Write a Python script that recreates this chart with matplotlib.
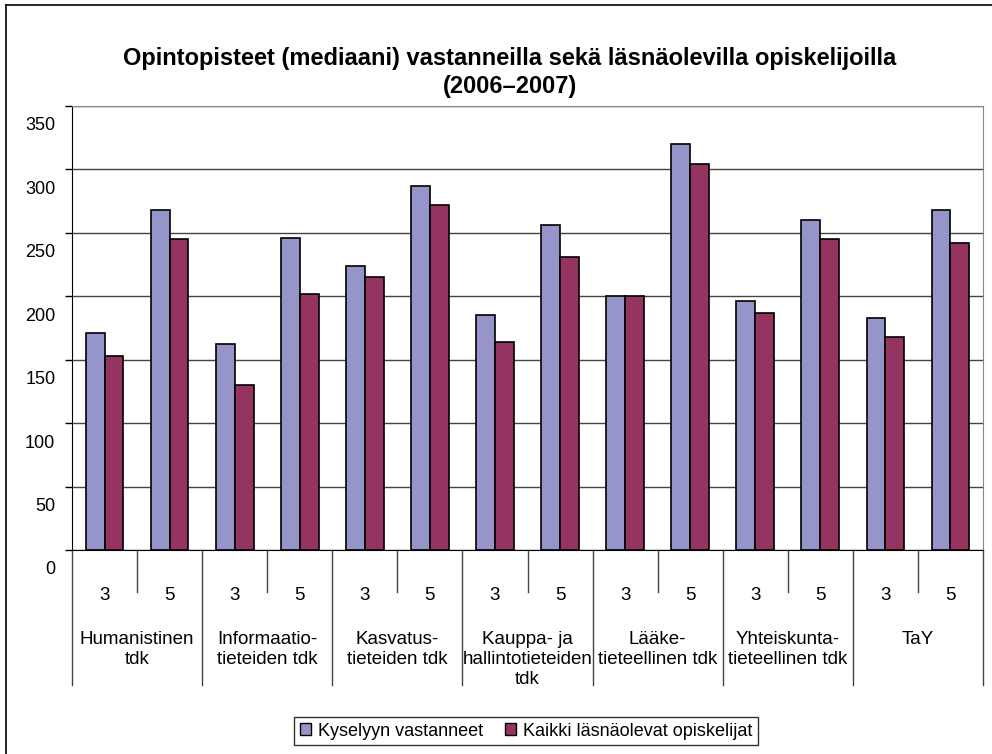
import numpy as np
import matplotlib
matplotlib.use('Agg')
import matplotlib.pyplot as plt
import matplotlib.transforms as mtransforms
from matplotlib.lines import Line2D
from matplotlib.patches import Patch

plt.rcParams['font.family'] = ['Liberation Sans', 'DejaVu Sans']

# ---- data ----
faculties = ['Humanistinen\ntdk', 'Informaatio-\ntieteiden tdk', 'Kasvatus-\ntieteiden tdk',
             'Kauppa- ja\nhallintotieteiden\ntdk', 'Lääke-\ntieteellinen tdk',
             'Yhteiskunta-\ntieteellinen tdk', 'TaY']
years = ['3', '5']
vastanneet = [171, 268, 162, 246, 224, 287, 185, 256, 200, 320, 196, 260, 183, 268]
kaikki = [153, 245, 130, 202, 215, 272, 164, 231, 200, 304, 187, 245, 168, 242]
series_names = ['Kyselyyn vastanneet', 'Kaikki läsnäolevat opiskelijat']
colors = ['#9595C9', '#953461']

fig = plt.figure(figsize=(9.92, 7.54), dpi=100)
ax = fig.add_axes([72 / 992, 1 - 550 / 754, (983 - 72) / 992, (550 - 106) / 754])

x = np.arange(len(vastanneet))
w = 0.29
ax.bar(x - w / 2, vastanneet, w, color=colors[0], edgecolor='black', linewidth=1.2, zorder=3)
ax.bar(x + w / 2, kaikki, w, color=colors[1], edgecolor='black', linewidth=1.2, zorder=3)

ax.set_xlim(-0.5, len(x) - 0.5)
ax.set_ylim(0, 350)
ax.set_yticks(np.arange(0, 351, 50))
ax.yaxis.grid(True, color='#444444', linewidth=1.0, zorder=0)
ax.tick_params(axis='y', length=5, width=1, pad=7, labelsize=13)
ax.set_xticks([])

# y tick labels sit below their gridlines, as in the original
offset = mtransforms.ScaledTranslation(0, -18 / 100, fig.dpi_scale_trans)
for lbl in ax.get_yticklabels():
    lbl.set_transform(lbl.get_transform() + offset)

for side in ['top', 'right']:
    ax.spines[side].set_color('#888888')
ax.spines['left'].set_color('black')
ax.spines['bottom'].set_color('black')

# category axis: two levels
trans = ax.get_xaxis_transform()
hpx = 550 - 106
for i in range(len(x)):
    ax.text(x[i], -(596 - 550) / hpx, years[i % 2], transform=trans,
            ha='center', va='center', fontsize=13.5)
for j, fac in enumerate(faculties):
    ax.text(2 * j + 0.5, -(631 - 550) / hpx, fac, transform=trans,
            ha='center', va='top', fontsize=13.5, linespacing=1.22)
    # minor separator between years
    ax.plot([2 * j + 0.5] * 2, [0, -(592 - 550) / hpx], transform=trans,
            color='#444444', linewidth=1, clip_on=False)
for b in np.arange(-0.5, len(x), 2):
    ax.plot([b, b], [0, -(685 - 550) / hpx], transform=trans,
            color='#444444', linewidth=1, clip_on=False)

# title
fig.text(0.514, 1 - 58 / 754,
         'Opintopisteet (mediaani) vastanneilla sekä läsnäolevilla opiskelijoilla',
         ha='center', va='center', fontsize=17, fontweight='bold')
fig.text(0.514, 1 - 86 / 754, '(2006–2007)',
         ha='center', va='center', fontsize=17, fontweight='bold')

# legend
handles = [Patch(facecolor=c, edgecolor='black', linewidth=1) for c in colors]
leg = fig.legend(handles, series_names, ncol=2, loc='center',
                 bbox_to_anchor=((292 + 760) / 2 / 992, 1 - 731 / 754),
                 fontsize=13, frameon=True, fancybox=False, edgecolor='black',
                 handlelength=0.6, handleheight=0.6, handletextpad=0.4,
                 columnspacing=1.2, borderpad=0.3)
leg.get_frame().set_linewidth(1)

# outer chart border (cut at right and bottom)
fig.add_artist(Line2D([6 / 992, 6 / 992], [0, 1 - 5 / 754], transform=fig.transFigure,
                      color='black', linewidth=1.2))
fig.add_artist(Line2D([6 / 992, 1], [1 - 5 / 754, 1 - 5 / 754], transform=fig.transFigure,
                      color='black', linewidth=1.2))

fig.savefig('out.png', dpi=100)
